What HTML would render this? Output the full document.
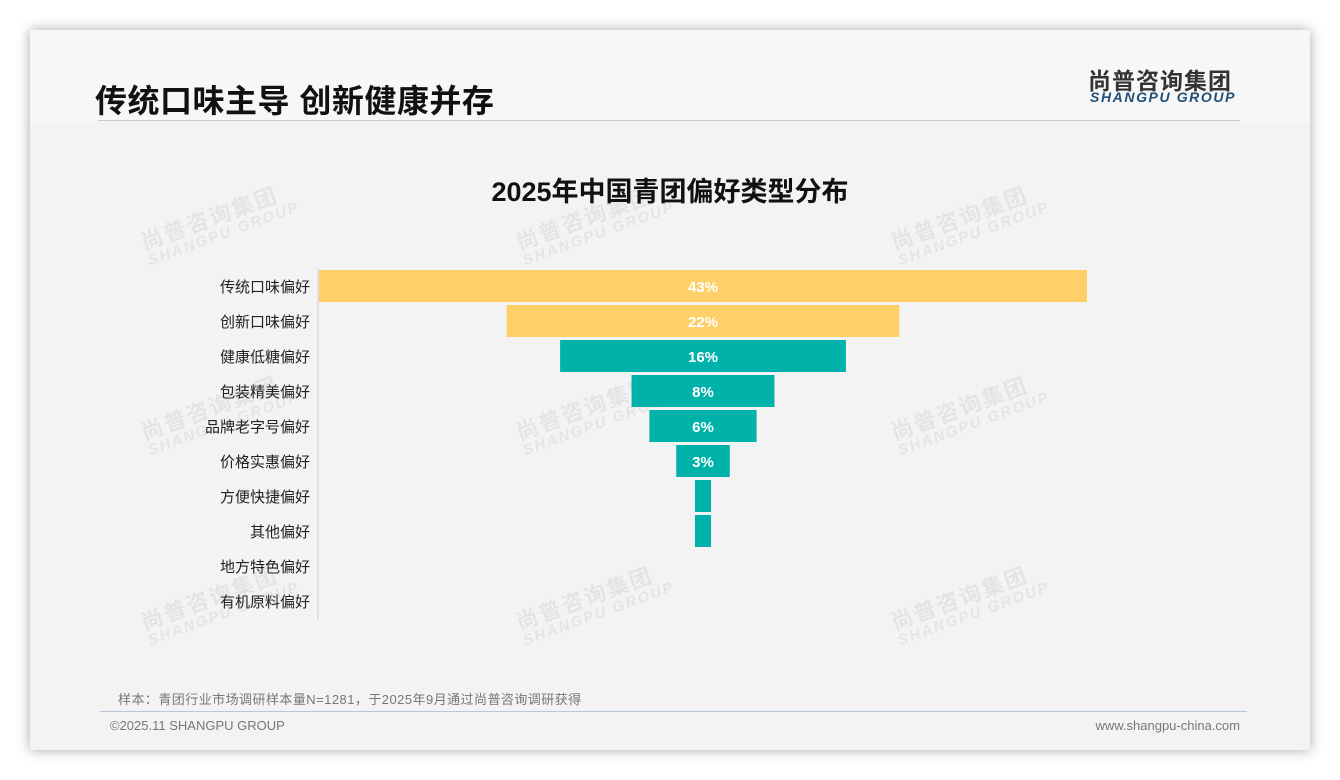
<!DOCTYPE html>
<html><head><meta charset="utf-8"><style>
body{margin:0;width:1340px;height:780px;background:#fff;position:relative;overflow:hidden;font-family:"Liberation Sans","Noto Sans CJK SC",sans-serif}
#card{position:absolute;left:30px;top:30px;width:1280px;height:720px;background:#f3f3f3;box-shadow:0 0 12px rgba(0,0,0,0.35)}
#hdr{position:absolute;left:30px;top:30px;width:1280px;height:92px;background:#f7f7f7}
.wm{position:absolute;transform:rotate(-20deg);color:#000;opacity:0.055;font-weight:bold;line-height:1}
.wm .a{font-size:22px;letter-spacing:2px}.wm .b{font-size:15px;font-style:italic;letter-spacing:2px}
</style></head><body>
<div id="card"></div>
<div id="hdr"></div>
<div style="position:absolute;left:95px;top:76px;font-size:32px;font-weight:bold;color:#111;letter-spacing:0.5px">传统口味主导 创新健康并存</div>
<div style="position:absolute;left:98px;top:120px;width:1142px;height:1px;background:#c8c8c8"></div>
<div style="position:absolute;left:1088px;top:62px;font-size:23px;font-weight:bold;color:#333;letter-spacing:1px">尚普咨询集团</div>
<div style="position:absolute;left:1090px;top:89px;font-size:14px;font-weight:bold;font-style:italic;color:#1f4e79;letter-spacing:1.6px">SHANGPU GROUP</div>
<div id="wms"></div>
<div style="position:absolute;left:0;width:1340px;text-align:center;top:170px;font-size:27px;font-weight:bold;color:#111">2025年中国青团偏好类型分布</div>
<svg id="chart" width="1340" height="780" style="position:absolute;left:0;top:0"></svg>
<div style="position:absolute;left:118px;top:689px;font-size:13px;color:#777;letter-spacing:0.45px">样本：青团行业市场调研样本量N=1281，于2025年9月通过尚普咨询调研获得</div>
<div style="position:absolute;left:100px;top:711px;width:1147px;height:1px;background:#b8c8d8"></div>
<div style="position:absolute;left:110px;top:718px;font-size:13px;color:#777">©2025.11 SHANGPU GROUP</div>
<div style="position:absolute;right:100px;top:718px;font-size:13px;color:#777">www.shangpu-china.com</div>
<script>
const categories=["传统口味偏好","创新口味偏好","健康低糖偏好","包装精美偏好","品牌老字号偏好","价格实惠偏好","方便快捷偏好","其他偏好","地方特色偏好","有机原料偏好"];
const values=[43,22,16,8,6,3,0.9,0.9,0,0];
const valueLabels=["43%","22%","16%","8%","6%","3%","","","",""];
const colors=["#ffd06a","#ffd06a","#00b2a9","#00b2a9","#00b2a9","#00b2a9","#00b2a9","#00b2a9","#00b2a9","#00b2a9"];
const ns="http://www.w3.org/2000/svg";
const svg=document.getElementById('chart');
const cx=703,pxPer=768/43,top0=270,step=35,bh=32;
const xw=v=>v*pxPer, yr=i=>top0+i*step;
const ax=document.createElementNS(ns,'line');


ax.setAttribute('x1',318);ax.setAttribute('x2',318);ax.setAttribute('y1',268);ax.setAttribute('y2',620);ax.setAttribute('stroke','#ccc');
svg.appendChild(ax);
categories.forEach((c,i)=>{
 const w=xw(values[i]);
 const r=document.createElementNS(ns,'rect');
 
 
 r.setAttribute('x',cx-w/2);r.setAttribute('y',yr(i));r.setAttribute('width',w);r.setAttribute('height',bh);r.setAttribute('fill',colors[i]);
 svg.appendChild(r);
 const t=document.createElementNS(ns,'text');
 
 
 t.setAttribute('x',310);t.setAttribute('y',yr(i)+bh/2+6);t.setAttribute('text-anchor','end');t.setAttribute('font-size','15');t.setAttribute('fill','#222');
 t.textContent=c;svg.appendChild(t);
 if(valueLabels[i]){
  const v=document.createElementNS(ns,'text');
  
  
  v.setAttribute('x',cx);v.setAttribute('y',yr(i)+bh/2+6);v.setAttribute('text-anchor','middle');v.setAttribute('font-size','15');v.setAttribute('font-weight','bold');v.setAttribute('fill','#fff');
  v.textContent=valueLabels[i];svg.appendChild(v);
 }
});
const wms=document.getElementById('wms');
[[140,205],[515,205],[890,205],[140,395],[515,395],[890,395],[140,585],[515,585],[890,585]].forEach(p=>{
 const d=document.createElement('div');d.className='wm';
 
 
 d.style.left=p[0]+'px';d.style.top=p[1]+'px';
 d.innerHTML='<div class="a">尚普咨询集团</div><div class="b">SHANGPU GROUP</div>';
 wms.appendChild(d);
});
</script>
</body></html>
